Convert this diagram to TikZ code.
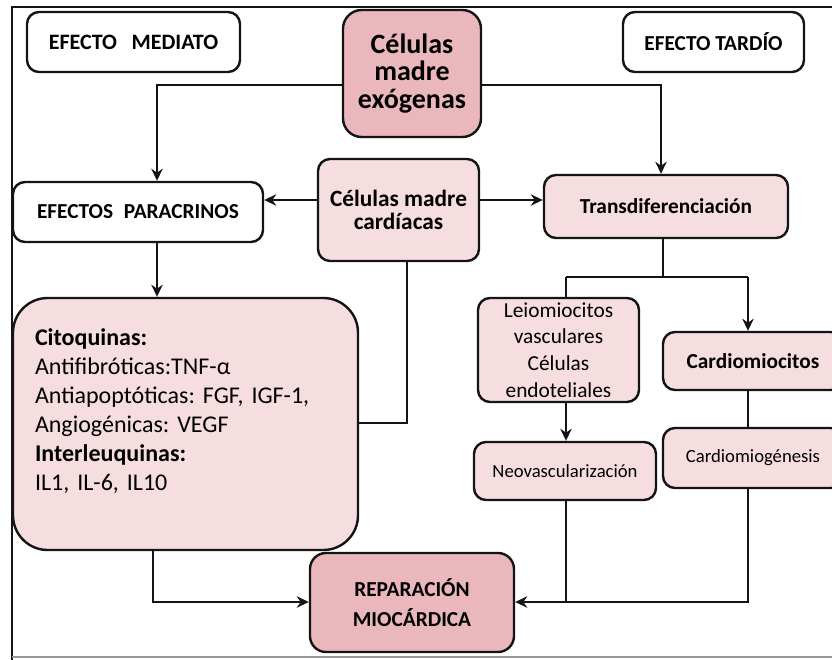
\documentclass[tikz,border=0pt]{standalone}
\usepackage{fontspec}
\setmainfont{Carlito}
\frenchspacing
\usetikzlibrary{arrows.meta}
\definecolor{mydark}{RGB}{20,20,20}
\definecolor{myframe}{RGB}{150,150,150}
\definecolor{hdrpink}{RGB}{245,221,224}
\definecolor{mypink}{RGB}{233,183,188}
\tikzset{
  block/.style={rectangle, draw=mydark, fill=white, align=center,
    inner sep=2pt, rounded corners=9pt, line width=1.8pt,
    font=\fontsize{16}{19}\selectfont\bfseries},
  pinkblock/.style={block, fill=hdrpink},
  darkblock/.style={block, fill=mypink, rounded corners=14pt,
    font=\fontsize{21}{20.5}\selectfont\bfseries},
  smallblock/.style={pinkblock, font=\fontsize{14}{17}\selectfont},
  arrow/.style={-{Stealth[length=9pt, width=8.5pt]}, line width=2.1pt, color=mydark},
  line/.style={line width=2.1pt, color=mydark}
}

\begin{document}
\begin{tikzpicture}[x=0.75pt, y=-0.75pt]
  \useasboundingbox (0,0) rectangle (832,660);
  % Frame
  \draw[line width=2pt, color=mydark] (12,660) -- (12,7) -- (840,7);
  \draw[line width=0.8pt, color=myframe] (12,657) -- (840,657);

  % Top row
  \node[block, minimum width=159.75pt, minimum height=45pt, font=\fontsize{16.5}{19}\selectfont\bfseries] (mediato) at (133.5,42) {EFECTO\hspace{11pt}MEDIATO};
  \node[darkblock, minimum width=103.5pt, minimum height=95.25pt] (exog) at (412,73.5) {Células\\madre\\exógenas};
  \node[block, minimum width=135.75pt, minimum height=45pt] (tardio) at (713.5,42) {EFECTO TARDÍO};

  % Second row
  \node[block, minimum width=187.5pt, minimum height=45pt] (paracr) at (138,212) {EFECTOS\enspace PARACRINOS};
  \node[pinkblock, minimum width=120.75pt, minimum height=76.5pt, font=\fontsize{17.5}{17}\selectfont\bfseries] (cardiac) at (398.5,210) {Células madre\\cardíacas};
  \node[pinkblock, minimum width=183pt, minimum height=47.25pt] (transd) at (666,206.5) {Transdiferenciación};

  % Secreted factors
  \node[pinkblock, rounded corners=26pt, minimum width=258.75pt, minimum height=189pt,
    text width=225.75pt, align=left, font=\fontsize{18}{21.75}\selectfont] (citoq) at (185.5,424)
    {\textbf{Citoquinas:}\\Antifibróticas:TNF-α\\Antiapoptóticas: FGF, IGF-1,\\Angiogénicas: VEGF\\\textbf{Interleuquinas:}\\IL1, IL-6, IL10\\\mbox{}};

  % Differentiated cells
  \node[pinkblock, minimum width=120.75pt, minimum height=78pt, font=\fontsize{16}{20}\selectfont] (leio) at (558.5,350)
    {Leiomiocitos\\vasculares\\Células\\endoteliales};
  \node[pinkblock, minimum width=135pt, minimum height=43.5pt] (cardio) at (753,361) {Cardiomiocitos};
  \node[smallblock, minimum width=136.5pt, minimum height=43.5pt] (neo) at (565,471) {Neovascularización};
  \node[smallblock, minimum width=135pt, minimum height=45pt] (cmg) at (753,458) {Cardiomiogénesis};

  % Outcome
  \node[darkblock, rounded corners=12pt, minimum width=153pt, minimum height=74.25pt,
    font=\fontsize{16}{22}\selectfont\bfseries] (repar) at (412,602.5) {REPARACIÓN\\MIOCÁRDICA};

  % Connectors
  \draw[arrow] (exog.west |- 0,85) -| (paracr.north -| 157,0);
  \draw[arrow] (exog.east |- 0,85) -| (transd.north -| 661,0);
  \draw[arrow] (cardiac.west |- 0,200) -- (paracr.east |- 0,200);
  \draw[arrow] (cardiac.east |- 0,200) -- (transd.west |- 0,200);
  \draw[arrow] (paracr.south -| 157,0) -- (citoq.north -| 157,0);
  \draw[line] (cardiac.south -| 407,0) |- (citoq.east |- 0,423);

  \coordinate (split) at (663,277);
  \draw[line] (transd.south -| split) -- (split);
  \draw[line] (566,277) -- (748,277);
  \draw[line] (566,277) -- (leio.north -| 566,0);
  \draw[arrow] (748,277) -- (cardio.north -| 748,0);
  \draw[arrow] (leio.south -| 566,0) -- (neo.north -| 566,0);
  \draw[line] (cardio.south -| 748,0) -- (cmg.north -| 748,0);

  \draw[line] (neo.south -| 566,0) -- (566,602);
  \draw[arrow] (cmg.south -| 748,0) |- (repar.east |- 0,602);
  \draw[arrow] (citoq.south -| 153,0) |- (repar.west |- 0,602);
\end{tikzpicture}
\end{document}
